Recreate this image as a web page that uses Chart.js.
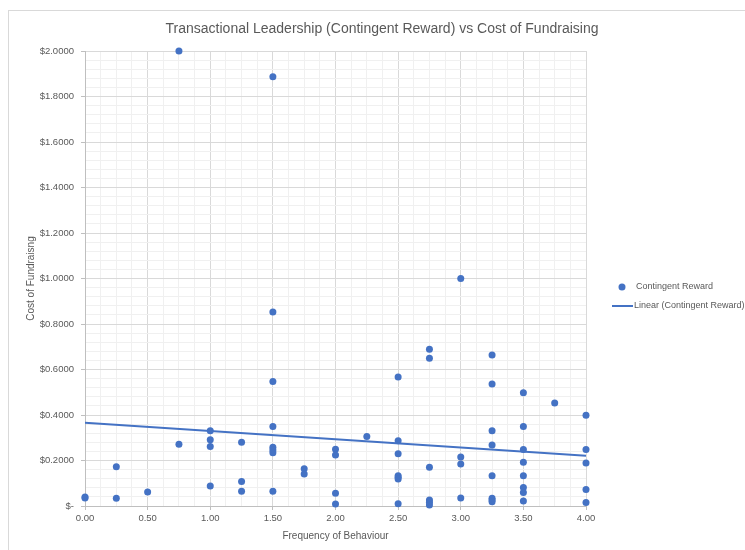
<!DOCTYPE html>
<html>
<head>
<meta charset="utf-8">
<script src="https://cdn.jsdelivr.net/npm/chart.js@4/dist/chart.umd.min.js"></script>
<style>
  html, body { margin: 0; padding: 0; background: #ffffff; }
  #wrap { width: 745px; height: 550px; position: relative; }
</style>
</head>
<body>
<div id="wrap"><canvas id="c" width="745" height="550"></canvas></div>
<script>
// Frequency of behaviour (x) and cost of fundraising (y) for each respondent
const frequency = [
  0.00, 0.00,
  0.25, 0.25,
  0.50,
  0.75, 0.75,
  1.00, 1.00, 1.00, 1.00,
  1.25, 1.25, 1.25,
  1.50, 1.50, 1.50, 1.50, 1.50, 1.50, 1.50, 1.50,
  1.75, 1.75,
  2.00, 2.00, 2.00, 2.00,
  2.25,
  2.50, 2.50, 2.50, 2.50, 2.50, 2.50, 2.50,
  2.75, 2.75, 2.75, 2.75, 2.75, 2.75,
  3.00, 3.00, 3.00, 3.00,
  3.25, 3.25, 3.25, 3.25, 3.25, 3.25, 3.25, 3.25,
  3.50, 3.50, 3.50, 3.50, 3.50, 3.50, 3.50, 3.50,
  3.75,
  4.00, 4.00, 4.00, 4.00, 4.00
];
const cost = [
  0.040, 0.035,
  0.173, 0.034,
  0.062,
  2.000, 0.271,
  0.331, 0.291, 0.261, 0.088,
  0.280, 0.108, 0.065,
  1.887, 0.853, 0.547, 0.350, 0.258, 0.246, 0.234, 0.065,
  0.164, 0.141,
  0.249, 0.224, 0.056, 0.009,
  0.306,
  0.567, 0.287, 0.230, 0.133, 0.126, 0.119, 0.010,
  0.689, 0.649, 0.170, 0.026, 0.016, 0.004,
  1.000, 0.215, 0.185, 0.035,
  0.664, 0.536, 0.331, 0.268, 0.133, 0.034, 0.026, 0.019,
  0.498, 0.350, 0.248, 0.192, 0.133, 0.081, 0.059, 0.022,
  0.453,
  0.399, 0.248, 0.189, 0.073, 0.015
];

// Linear trend line end points
const trendX = [0, 4];
const trendY = [0.366, 0.221];

// Series names
const seriesName = 'Contingent Reward';
const trendName = 'Linear (Contingent Reward)';

const chartTitle = 'Transactional Leadership (Contingent Reward) vs Cost of Fundraising';
const xTitle = 'Frequency of Behaviour';
const yTitle = 'Cost of Fundraisng';

const BLUE = '#4472C4';
const TEXT = '#595959';
const FONT = '"Liberation Sans", Arial, sans-serif';

const points = frequency.map((x, i) => ({ x: x, y: cost[i] }));
const trend = trendX.map((x, i) => ({ x: x, y: trendY[i] }));

// Frame, title, axis titles and legend
const decorations = {
  id: 'decorations',
  beforeDraw(chart) {
    const ctx = chart.ctx;
    ctx.save();
    ctx.fillStyle = '#ffffff';
    ctx.fillRect(0, 0, chart.width, chart.height);
    ctx.strokeStyle = '#d9d9d9';
    ctx.lineWidth = 1;
    ctx.strokeRect(8.5, 10.5, 800, 600);
    ctx.restore();
  },
  afterDraw(chart) {
    const ctx = chart.ctx;
    const area = chart.chartArea;
    ctx.save();
    ctx.fillStyle = TEXT;
    ctx.textBaseline = 'middle';

    ctx.font = '14px ' + FONT;
    ctx.textAlign = 'center';
    ctx.fillText(chartTitle, 382, 29);

    ctx.font = '10px ' + FONT;
    ctx.fillText(xTitle, (area.left + area.right) / 2, 536);

    ctx.save();
    ctx.translate(31, (area.top + area.bottom) / 2);
    ctx.rotate(-Math.PI / 2);
    ctx.fillText(yTitle, 0, 0);
    ctx.restore();

    // legend
    const ds0 = chart.data.datasets[0];
    const ds1 = chart.data.datasets[1];
    ctx.font = '9px ' + FONT;
    ctx.textAlign = 'left';
    ctx.beginPath();
    ctx.fillStyle = ds0.backgroundColor;
    ctx.arc(622, 287, 3.5, 0, Math.PI * 2);
    ctx.fill();
    ctx.fillStyle = TEXT;
    ctx.fillText(ds0.label, 636, 287);

    ctx.beginPath();
    ctx.strokeStyle = ds1.borderColor;
    ctx.lineWidth = 2;
    ctx.moveTo(612, 306);
    ctx.lineTo(633, 306);
    ctx.stroke();
    ctx.fillText(ds1.label, 634, 306);
    ctx.restore();
  }
};

new Chart(document.getElementById('c'), {
  type: 'scatter',
  data: {
    datasets: [
      {
        label: seriesName,
        data: points,
        backgroundColor: BLUE,
        borderColor: BLUE,
        pointRadius: 3.5,
        pointHoverRadius: 3.5,
        borderWidth: 0,
        clip: false,
        order: 1
      },
      {
        label: trendName,
        type: 'line',
        data: trend,
        borderColor: BLUE,
        backgroundColor: BLUE,
        borderWidth: 2,
        pointRadius: 0,
        fill: false,
        order: 0
      }
    ]
  },
  options: {
    responsive: false,
    animation: false,
    events: [],
    layout: { padding: { top: 51, right: 159, bottom: 0, left: 0 } },
    plugins: {
      legend: { display: false },
      title: { display: false },
      tooltip: { enabled: false }
    },
    scales: {
      x: {
        type: 'linear',
        min: 0,
        max: 4,
        afterFit(scale) { scale.height = 44; },
        border: { color: '#bfbfbf' },
        grid: {
          color: (c) => (c.index % 4 === 0 ? '#d9d9d9' : '#f0f0f0'),
          tickColor: (c) => (c.index % 4 === 0 ? '#bfbfbf' : 'rgba(0,0,0,0)'),
          tickLength: 4
        },
        ticks: {
          stepSize: 0.125,
          autoSkip: false,
          maxRotation: 0,
          padding: 3,
          color: TEXT,
          font: { family: FONT, size: 9.5 },
          callback: (v, i) => (i % 4 === 0 ? Number(v).toFixed(2) : '')
        }
      },
      y: {
        type: 'linear',
        min: 0,
        max: 2,
        afterFit(scale) { scale.width = 85; },
        border: { color: '#bfbfbf' },
        grid: {
          color: (c) => (c.index % 5 === 0 ? '#d9d9d9' : '#f0f0f0'),
          tickColor: (c) => (c.index % 5 === 0 ? '#bfbfbf' : 'rgba(0,0,0,0)'),
          tickLength: 4
        },
        ticks: {
          stepSize: 0.04,
          autoSkip: false,
          padding: 7,
          color: TEXT,
          font: { family: FONT, size: 9.5 },
          callback: (v, i) => {
            if (i % 5 !== 0) return '';
            return v < 1e-9 ? '$-' : '$' + Number(v).toFixed(4);
          }
        }
      }
    }
  },
  plugins: [decorations]
});
</script>
</body>
</html>
